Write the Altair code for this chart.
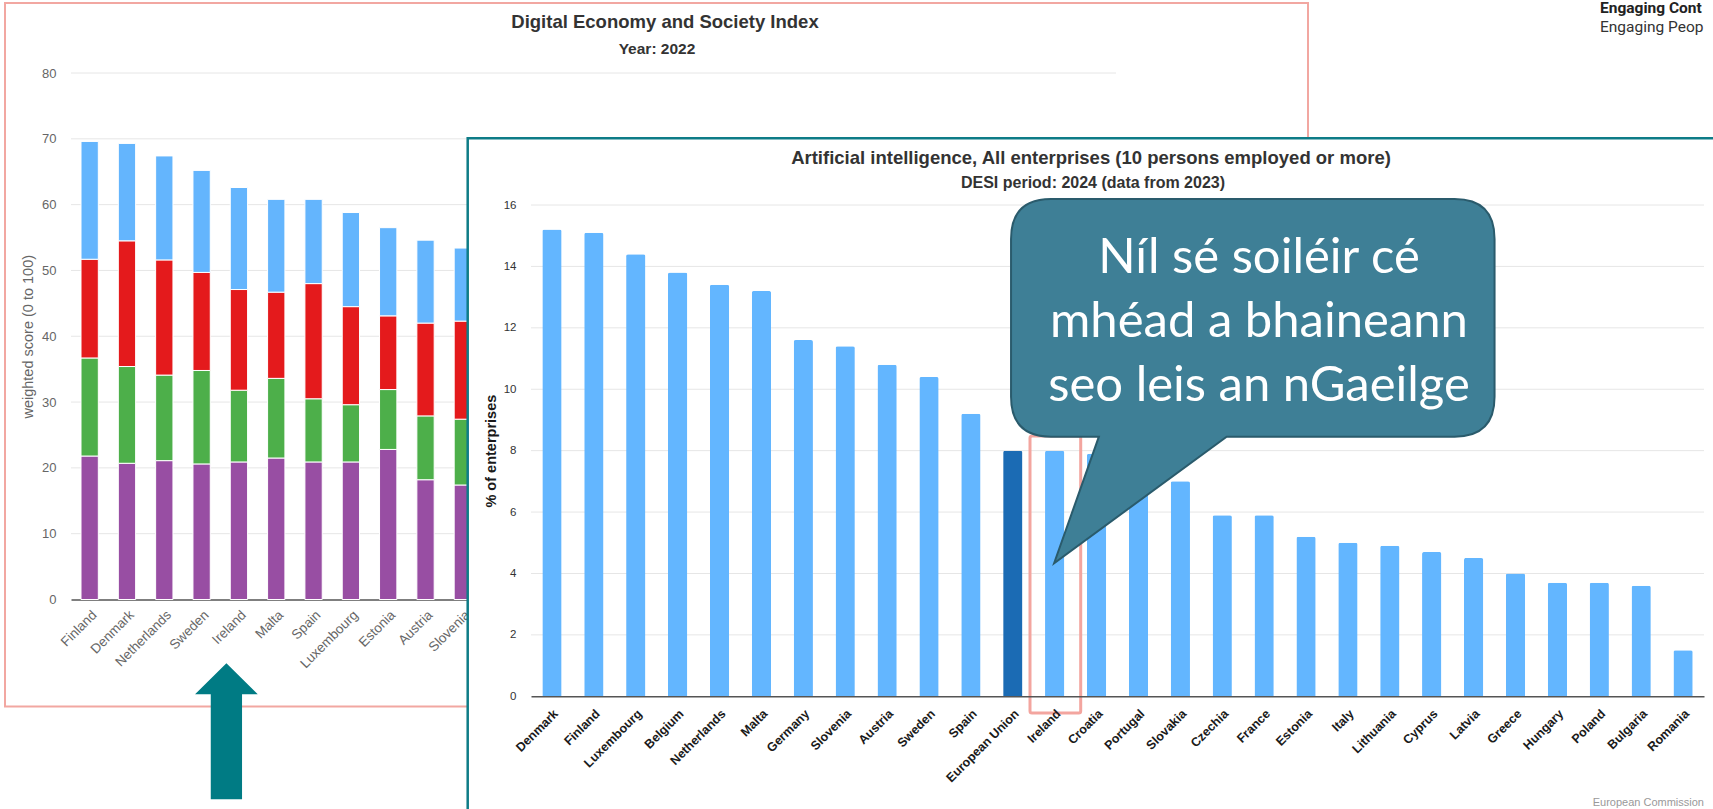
import altair as alt
import pandas as pd

W, H = 1713, 809

# ---------------- Chart 1: DESI 2022 (stacked weighted scores) ----------------
desi_title = "Digital Economy and Society Index"
desi_subtitle = "Year: 2022"
desi_y_title = "weighted score (0 to 100)"
desi_countries = ["Finland", "Denmark", "Netherlands", "Sweden", "Ireland", "Malta",
                  "Spain", "Luxembourg", "Estonia", "Austria", "Slovenia"]
desi_dimensions = ["Human capital", "Connectivity",
                   "Integration of digital technology", "Digital public services"]
human_capital = [21.8, 20.7, 21.1, 20.6, 20.9, 21.5, 20.9, 20.9, 22.8, 18.2, 17.4]
connectivity = [14.9, 14.7, 13.0, 14.2, 10.9, 12.1, 9.6, 8.7, 9.1, 9.7, 10.0]
integration = [15.0, 19.1, 17.5, 14.9, 15.3, 13.1, 17.5, 14.9, 11.2, 14.1, 14.9]
public_services = [17.9, 14.8, 15.8, 15.5, 15.5, 14.1, 12.8, 14.3, 13.4, 12.6, 11.1]
desi_colors = ["#984EA3", "#4DAF4A", "#E41A1C", "#64B5FD"]
desi_ticks = [0, 10, 20, 30, 40, 50, 60, 70, 80]
desi_grid = [10, 20, 30, 40, 50, 60, 70, 80]

# ---------------- Chart 2: AI use by enterprises ----------------
ai_title = "Artificial intelligence, All enterprises (10 persons employed or more)"
ai_subtitle = "DESI period: 2024 (data from 2023)"
ai_y_title = "% of enterprises"
ai_countries = ["Denmark", "Finland", "Luxembourg", "Belgium", "Netherlands", "Malta",
                "Germany", "Slovenia", "Austria", "Sweden", "Spain", "European Union",
                "Ireland", "Croatia", "Portugal", "Slovakia", "Czechia", "France",
                "Estonia", "Italy", "Lithuania", "Cyprus", "Latvia", "Greece",
                "Hungary", "Poland", "Bulgaria", "Romania"]
ai_values = [15.2, 15.1, 14.4, 13.8, 13.4, 13.2, 11.6, 11.4, 10.8, 10.4, 9.2, 8.0,
             8.0, 7.9, 7.9, 7.0, 5.9, 5.9, 5.2, 5.0, 4.9, 4.7, 4.5, 4.0,
             3.7, 3.7, 3.6, 1.5]
ai_groups = ["EU average", "Member state"]
ai_colors = ["#1B6BB4", "#63B6FF"]
ai_ticks = [0, 2, 4, 6, 8, 10, 12, 14, 16]
ai_grid = [2, 4, 6, 8, 10, 12, 14, 16]
credit = "European Commission"

# ---------------- Slide annotations ----------------
bubble_lines = ["Níl sé soiléir cé", "mhéad a bhaineann", "seo leis an nGaeilge"]
header_lines = ["Engaging Cont", "Engaging Peop"]   # cut by the slide's right edge

# ---------------- tables ----------------
rows = []
for i, c in enumerate(desi_countries):
    for k, vals in enumerate([human_capital, connectivity, integration, public_services]):
        rows.append({"country": c, "dimension": desi_dimensions[k], "score": vals[i], "order": k})
desi_df = pd.DataFrame(rows)
ai_df = pd.DataFrame({
    "country": ai_countries,
    "value": ai_values,
    "group": [ai_groups[0] if c == "European Union" else ai_groups[1] for c in ai_countries],
})
one = pd.DataFrame({"k": [0]})

FONT = "Liberation Sans"

# scales
x1 = alt.Scale(domain=desi_countries, range=[71, 481.5], paddingInner=0.536, paddingOuter=0.268)
y1 = alt.Scale(domain=[0, 80], range=[599.5, 73], nice=False, zero=True)
x2 = alt.Scale(domain=ai_countries, range=[531, 1704], paddingInner=0.54, paddingOuter=0.27)
y2 = alt.Scale(domain=[0, 16], range=[696.3, 205], nice=False, zero=True)

# ---- chart 1 ----
frame1 = alt.Chart(one).mark_rect(fillOpacity=0, stroke="#F2A7A1", strokeWidth=2).encode(
    x=alt.value(5), x2=alt.value(1308), y=alt.value(3), y2=alt.value(706.5))

grid1 = alt.Chart(pd.DataFrame({"t": desi_grid})).mark_rule(color="#E6E6E6", strokeWidth=1).encode(
    y=alt.Y("t:Q", scale=y1, axis=None), x=alt.value(71), x2=alt.value(1116))

bars1 = alt.Chart(desi_df).mark_bar(stroke="white", strokeWidth=1).encode(
    x=alt.X("country:N", sort=None, scale=x1,
            axis=alt.Axis(orient="bottom", offset=599.5 - H, title=None, labelAngle=-45,
                          labelAlign="right", labelBaseline="middle", labelPadding=13,
                          labelOffset=5,
                          ticks=False, domain=True, domainColor="#555", domainWidth=1.5,
                          labelColor="#666", labelFont=FONT, labelFontSize=13.5,
                          labelOverlap=False, grid=False, zindex=0)),
    y=alt.Y("score:Q", stack="zero", scale=y1,
            axis=alt.Axis(orient="left", offset=-71, values=desi_ticks, title=desi_y_title,
                          titleColor="#666", titleFont=FONT, titleFontSize=14.5,
                          titleFontWeight="normal", titlePadding=6,
                          labelPadding=15, ticks=False, domain=False, grid=False,
                          labelColor="#666", labelFont=FONT, labelFontSize=13, zindex=0)),
    color=alt.Color("dimension:N", scale=alt.Scale(domain=desi_dimensions, range=desi_colors),
                    legend=None),
    order=alt.Order("order:Q", sort="ascending"),
)

title1 = alt.Chart(one).mark_text(text=desi_title, font=FONT, fontSize=18.5, fontWeight="bold",
                                  color="#333", align="center", baseline="middle").encode(
    x=alt.value(665), y=alt.value(22))
subtitle1 = alt.Chart(one).mark_text(text=desi_subtitle, font=FONT, fontSize=15.5, fontWeight="bold",
                                     color="#333", align="center", baseline="middle").encode(
    x=alt.value(657), y=alt.value(49))

# ---- chart 2 ----
bg2 = alt.Chart(one).mark_rect(fill="white", stroke="#0E7C87", strokeWidth=2.5).encode(
    x=alt.value(467.7), x2=alt.value(1760), y=alt.value(138.3), y2=alt.value(860))

grid2 = alt.Chart(pd.DataFrame({"t": ai_grid})).mark_rule(color="#E6E6E6", strokeWidth=1).encode(
    y=alt.Y("t:Q", scale=y2, axis=None), x=alt.value(531), x2=alt.value(1704))

bars2 = alt.Chart(ai_df).mark_bar(cornerRadiusTopLeft=2, cornerRadiusTopRight=2).encode(
    x=alt.X("country:N", sort=None, scale=x2,
            axis=alt.Axis(orient="bottom", offset=696.3 - H, title=None, labelAngle=-45,
                          labelAlign="right", labelBaseline="middle", labelPadding=15,
                          labelOffset=4,
                          ticks=False, domain=True, domainColor="#555", domainWidth=1.5,
                          labelColor="#1a1a1a", labelFont=FONT, labelFontSize=12.5,
                          labelFontWeight="bold", labelOverlap=False, grid=False, zindex=1)),
    y=alt.Y("value:Q", scale=y2,
            axis=alt.Axis(orient="left", offset=-531, values=ai_ticks, title=ai_y_title,
                          titleColor="#1a1a1a", titleFont=FONT, titleFontSize=14.5,
                          titleFontWeight="bold", titlePadding=5,
                          labelPadding=15, ticks=False, domain=False, grid=False,
                          labelColor="#333", labelFont=FONT, labelFontSize=11.5, zindex=1)),
    color=alt.Color("group:N", scale=alt.Scale(domain=ai_groups, range=ai_colors), legend=None),
)

title2 = alt.Chart(one).mark_text(text=ai_title, font=FONT, fontSize=18.5, fontWeight="bold",
                                  color="#333", align="center", baseline="middle").encode(
    x=alt.value(1091), y=alt.value(158))
subtitle2 = alt.Chart(one).mark_text(text=ai_subtitle, font=FONT, fontSize=16, fontWeight="bold",
                                     color="#333", align="center", baseline="middle").encode(
    x=alt.value(1093), y=alt.value(183))
credit2 = alt.Chart(one).mark_text(text=credit, font=FONT, fontSize=11, color="#999",
                                   align="right", baseline="middle").encode(
    x=alt.value(1704), y=alt.value(803))

# ---- annotations ----
highlight = alt.Chart(one).mark_rect(fillOpacity=0, stroke="#F3A59F", strokeWidth=3,
                                     cornerRadius=2).encode(
    x=alt.value(1030), x2=alt.value(1080.7), y=alt.value(436), y2=alt.value(713))

# speech bubble drawn as one custom symbol (unit box -1..1, side = sqrt(size))
bubble_path = ("M-0.834,-0.752 L0.834,-0.752 Q0.999,-0.752 0.999,-0.587 "
               "L0.999,0.065 Q0.999,0.230 0.834,0.230 L-0.108,0.230 L-0.821,0.753 "
               "L-0.636,0.230 L-0.834,0.230 Q-0.999,0.230 -0.999,0.065 "
               "L-0.999,-0.587 Q-0.999,-0.752 -0.834,-0.752 Z")
bubble = alt.Chart(one).mark_point(shape=bubble_path, filled=True, fill="#3E7F96",
                                   stroke="#2A5B6C", strokeWidth=2, opacity=1,
                                   size=484 ** 2).encode(
    x=alt.value(1252.8), y=alt.value(381))
bubble_text = alt.Chart(one).mark_text(text=bubble_lines, font="Lato", fontSize=49,
                                       color="white", align="center", baseline="alphabetic",
                                       lineHeight=64).encode(
    x=alt.value(1259), y=alt.value(272.7))

arrow_path = ("M0,-1 L0.461,-0.544 L0.23,-0.544 L0.23,1 L-0.23,1 L-0.23,-0.544 "
              "L-0.461,-0.544 Z")
arrow = alt.Chart(one).mark_point(shape=arrow_path, filled=True, fill="#007B84",
                                  strokeWidth=0, opacity=1, size=136 ** 2).encode(
    x=alt.value(226.4), y=alt.value(731.3))

head1 = alt.Chart(one).mark_text(text=header_lines[0], font="Roboto", fontSize=15.5,
                                 fontWeight="bold", color="#222", align="left",
                                 baseline="top").encode(x=alt.value(1600), y=alt.value(1))
head2 = alt.Chart(one).mark_text(text=header_lines[1], font="Roboto", fontSize=15.5,
                                 color="#333", align="left",
                                 baseline="top").encode(x=alt.value(1600), y=alt.value(20))

chart = alt.layer(
    frame1, grid1, bars1, title1, subtitle1,
    bg2, grid2, bars2, title2, subtitle2, credit2,
    highlight, bubble, bubble_text, arrow, head1, head2,
).resolve_scale(
    x="independent", y="independent", color="independent"
).properties(
    width=W, height=H, padding=0, autosize=alt.AutoSizeParams(type="none"),
    background="white",
).configure_view(strokeWidth=0)

chart.save("out.html", embed_options={"renderer": "svg", "actions": False})
